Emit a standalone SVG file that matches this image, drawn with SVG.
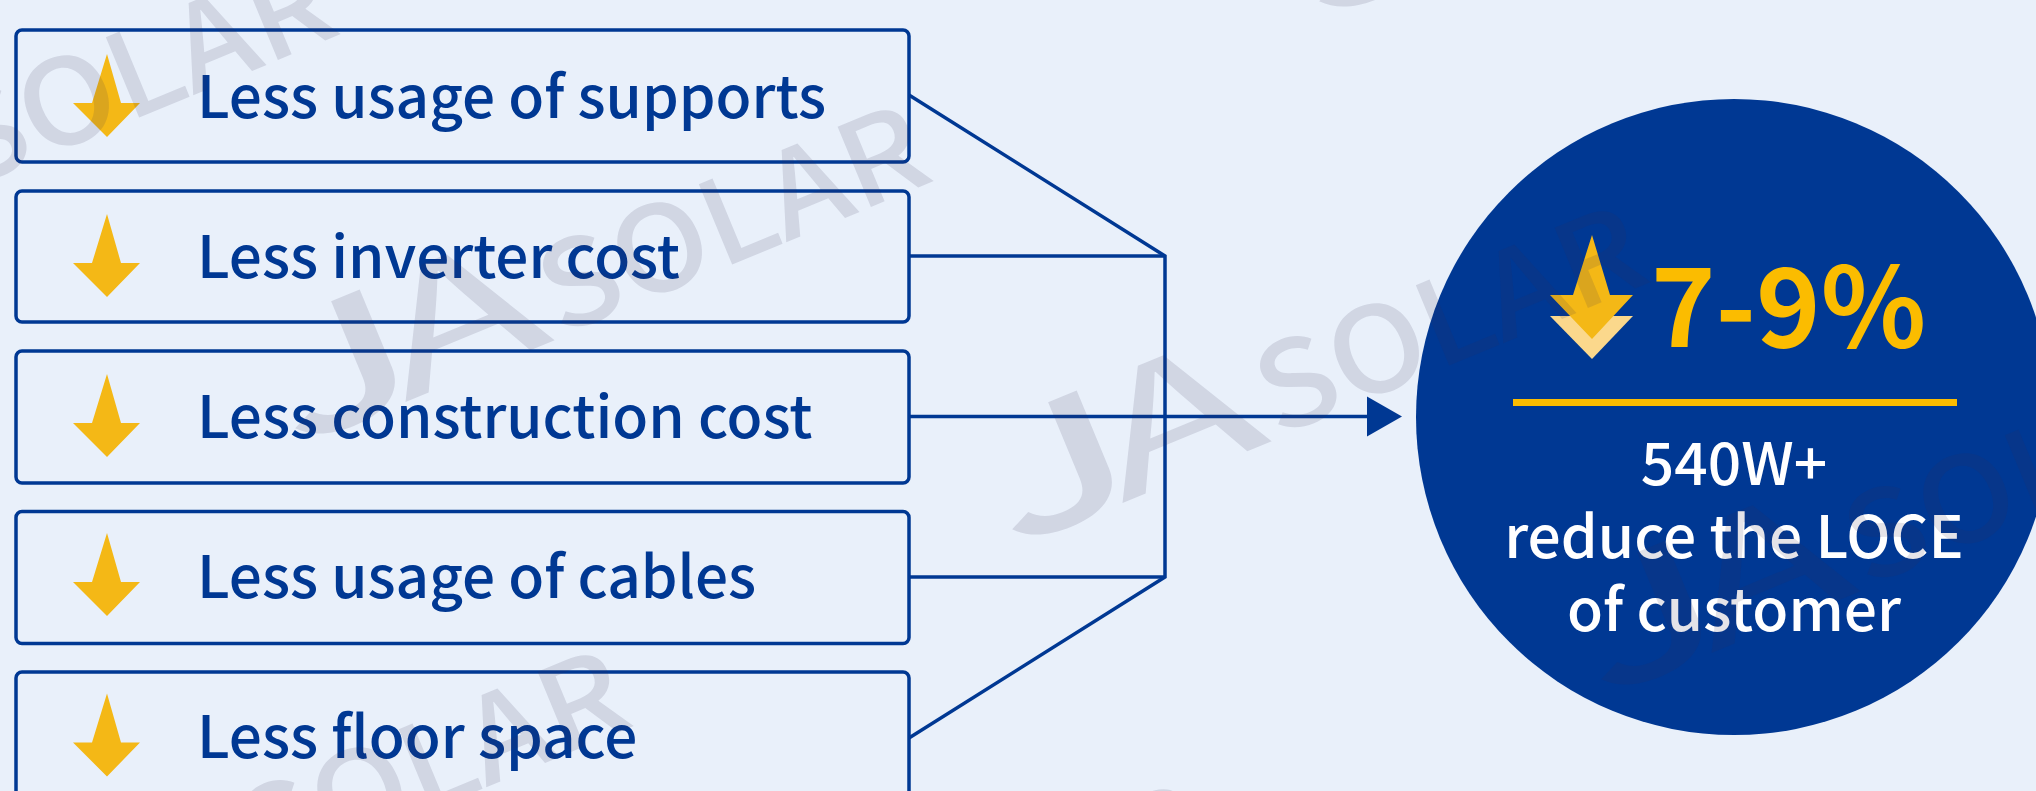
<svg xmlns="http://www.w3.org/2000/svg" width="2036" height="791" viewBox="0 0 2036 791">
<style>
.box{fill:none;stroke:#003893;stroke-width:3.5}
.lbl{font-family:"Noto Sans CJK SC","Noto Sans",sans-serif;font-size:58.5px;font-weight:500;fill:#003893}
.ar{fill:#f4b816}
.con{fill:none;stroke:#003893;stroke-width:3.5}
.ctr{font-family:"Noto Sans CJK SC","Noto Sans",sans-serif;font-size:58.7px;font-weight:500;fill:#fff;text-anchor:middle}
.wm{font-family:"Noto Sans CJK SC","Noto Sans",sans-serif;fill:#353050;fill-opacity:.133}
</style>
<defs>
<path id="dn" d="M107 54L121 103H140L107 137L73 103H92Z"/>
<g id="mark" class="wm">
<text font-size="165" font-weight="500" transform="scale(1.6 1)" x="-4" y="20">J</text>
<text font-size="165" transform="scale(1.63 1)" x="69" y="20">A</text>
<text font-size="118" font-weight="500" transform="scale(1.08 1)" x="261" y="18">SOLAR</text>
</g>
</defs>
<rect width="2036" height="791" fill="#e9f0fa"/>
<g id="connectors">
<path class="con" d="M909 95L1165 256V577L909 738"/>
<path class="con" d="M909 256H1165"/>
<path class="con" d="M909 577H1165"/>
<path class="con" d="M909 416.5H1368"/>
<path fill="#003893" d="M1367 396.5L1402 416.5L1367 436.5Z"/>
</g>
<g id="node1"><rect class="box" x="16" y="30" width="893" height="132" rx="6"/><use href="#dn" class="ar"/><text class="lbl" x="197" y="118">Less usage of supports</text></g>
<g id="node2"><rect class="box" x="16" y="191" width="893" height="131" rx="6"/><use href="#dn" class="ar" y="160"/><text class="lbl" x="197" y="278">Less inverter cost</text></g>
<g id="node3"><rect class="box" x="16" y="351" width="893" height="132" rx="6"/><use href="#dn" class="ar" y="320"/><text class="lbl" x="197" y="438">Less construction cost</text></g>
<g id="node4"><rect class="box" x="16" y="511.5" width="893" height="132" rx="6"/><use href="#dn" class="ar" y="479"/><text class="lbl" x="197" y="598">Less usage of cables</text></g>
<g id="node5"><rect class="box" x="16" y="672" width="893" height="132" rx="6"/><use href="#dn" class="ar" y="639.5"/><text class="lbl" x="197" y="758">Less floor space</text></g>
<g id="result">
<circle cx="1734" cy="417" r="318" fill="#003893"/>
<path fill="#fbd88c" d="M1550 316H1633L1592 359Z"/>
<path class="ar" d="M1592 235L1610 295H1633L1592 339L1550 295H1573Z"/>
<text x="1651" y="347" font-family="'Noto Sans CJK SC','Noto Sans',sans-serif" font-weight="700" font-size="109.5" fill="#fbbc00">7-9%</text>
<rect x="1513" y="399" width="444" height="7" fill="#fbbc00"/>
<text class="ctr" x="1734" y="485">540W+</text>
<text class="ctr" x="1734" y="558">reduce the LOCE</text>
<text class="ctr" x="1734" y="631">of customer</text>
</g>
<g id="watermarks">
<use href="#mark" transform="translate(293 427) rotate(-22.5)"/>
<use href="#mark" transform="translate(1010 528) rotate(-22.5)"/>
<use href="#mark" transform="translate(1599 678) rotate(-22.5)"/>
<use href="#mark" transform="translate(-300 280) rotate(-22.5)"/>
<use href="#mark" transform="translate(1317 0) rotate(-22.5)"/>
<use href="#mark" transform="translate(-7 972) rotate(-22.5)"/>
<use href="#mark" transform="translate(571 1106) rotate(-22.5)"/>
</g>
</svg>
